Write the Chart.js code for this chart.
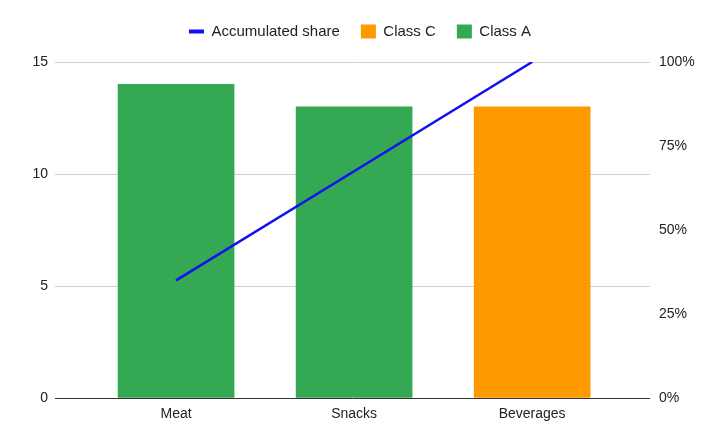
<!DOCTYPE html>
<html>
<head>
<meta charset="utf-8">
<script src="https://cdn.jsdelivr.net/npm/chart.js@4/dist/chart.umd.min.js"></script>
<style>
  html, body { margin: 0; padding: 0; background: #fff; }
  #wrap { width: 720px; height: 445px; }
</style>
</head>
<body>
<div id="wrap"><canvas id="chart"></canvas></div>
<script>
const categories = ['Meat', 'Snacks', 'Beverages'];
const classA = [14, 13, null];
const classC = [null, null, 13];
const accumulatedShare = [0.35, 0.675, 1.0];
const leftTicks = [0, 5, 10, 15];
const rightTicks = [0, 0.25, 0.5, 0.75, 1];

const FONT = '"Liberation Sans", Arial, sans-serif';
const TEXT = '#222';

// bars and line are placed on a numeric x axis so the outer margins can match
function points(values) {
  const out = [];
  values.forEach((v, i) => { if (v !== null) out.push({ x: i, y: v }); });
  return out;
}

Chart.defaults.font.family = FONT;
Chart.defaults.font.size = 14;
Chart.defaults.color = TEXT;

// extra space under the legend
const legendGap = {
  id: 'legendGap',
  afterInit(chart) {
    const lg = chart.legend;
    if (!lg) return;
    const fit = lg.fit;
    lg.fit = function () {
      fit.call(this);
      this.height += 13;
    };
  }
};

const ctx = document.getElementById('chart').getContext('2d');

new Chart(ctx, {
  type: 'bar',
  plugins: [legendGap],
  data: {
    datasets: [{
      type: 'line',
      label: 'Accumulated share',
      data: points(accumulatedShare),
      yAxisID: 'y1',
      borderColor: '#1010f5',
      backgroundColor: '#1010f5',
      borderWidth: 2.5,
      pointRadius: 0,
      tension: 0,
      order: 0
    }, {
      label: 'Class C',
      data: points(classC),
      yAxisID: 'y',
      backgroundColor: '#ff9900',
      barThickness: 116,
      grouped: false,
      order: 1
    }, {
      label: 'Class A',
      data: points(classA),
      yAxisID: 'y',
      backgroundColor: '#34a853',
      barThickness: 116,
      grouped: false,
      order: 2
    }]
  },
  options: {
    responsive: true,
    maintainAspectRatio: false,
    animation: false,
    layout: { padding: { top: 3, left: 0, right: 0, bottom: 0 } },
    plugins: {
      tooltip: { enabled: false },
      legend: {
        position: 'top',
        labels: {
          usePointStyle: true,
          pointStyleWidth: 15,
          boxHeight: 14,
          padding: 21,
          color: TEXT,
          font: { family: FONT, size: 15 },
          generateLabels(chart) {
            return chart.data.datasets.map((ds, i) => ({
              text: ds.label,
              datasetIndex: i,
              fillStyle: ds.backgroundColor,
              strokeStyle: ds.type === 'line' ? ds.borderColor : ds.backgroundColor,
              lineWidth: ds.type === 'line' ? 4 : 0,
              pointStyle: ds.type === 'line' ? 'line' : 'rect',
              fontColor: TEXT,
              hidden: false
            }));
          }
        }
      }
    },
    scales: {
      x: {
        type: 'linear',
        min: -0.68,
        max: 2.662,
        offset: false,
        grid: { display: false, drawTicks: false },
        border: { display: false },
        afterBuildTicks(scale) {
          scale.ticks = categories.map((c, i) => ({ value: i }));
        },
        ticks: {
          autoSkip: false,
          maxRotation: 0,
          padding: 8,
          color: TEXT,
          callback: v => categories[v] ?? ''
        },
        afterFit(scale) { scale.height = 47; }
      },
      y: {
        position: 'left',
        min: 0,
        max: 15,
        afterBuildTicks(scale) {
          scale.ticks = leftTicks.map(v => ({ value: v }));
        },
        grid: {
          drawTicks: false,
          color: c => c.tick && c.tick.value === 0 ? '#333' : '#d0d0d0',
          lineWidth: 1
        },
        border: { display: false },
        ticks: { padding: 7, color: TEXT },
        afterFit(scale) { scale.width = 55; }
      },
      y1: {
        position: 'right',
        min: 0,
        max: 1,
        afterBuildTicks(scale) {
          scale.ticks = rightTicks.map(v => ({ value: v }));
        },
        grid: { display: false, drawTicks: false },
        border: { display: false },
        ticks: {
          padding: 9,
          color: TEXT,
          callback: v => Math.round(v * 100) + '%'
        },
        afterFit(scale) { scale.width = 70; }
      }
    }
  }
});
</script>
</body>
</html>
